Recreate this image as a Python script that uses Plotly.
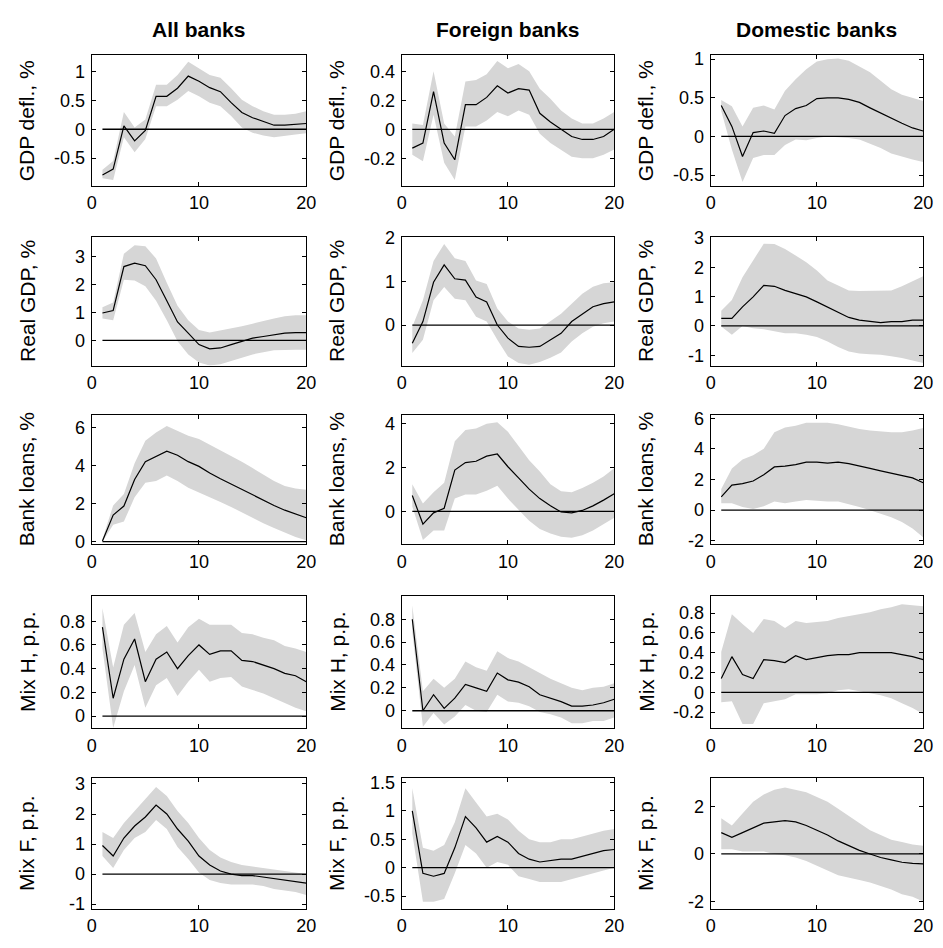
import plotly.graph_objects as go

horizon = list(range(1, 21))
col_titles = ["All banks", "Foreign banks", "Domestic banks"]
row_labels = ["GDP defl., %", "Real GDP, %", "Bank loans, %", "Mix H, p.p.", "Mix F, p.p."]

# ---- GDP deflator ----
gdp_all_mid = [-0.79, -0.69, 0.06, -0.20, -0.02, 0.57, 0.57, 0.71, 0.92, 0.83, 0.72, 0.65, 0.46, 0.29, 0.20, 0.13, 0.07, 0.07, 0.08, 0.10]
gdp_all_up = [-0.70, -0.55, 0.30, 0.03, 0.17, 0.77, 0.77, 0.94, 1.17, 1.06, 0.94, 0.89, 0.71, 0.51, 0.40, 0.31, 0.25, 0.25, 0.27, 0.31]
gdp_all_lo = [-0.85, -0.88, -0.14, -0.40, -0.17, 0.40, 0.40, 0.51, 0.66, 0.57, 0.46, 0.40, 0.23, 0.03, -0.06, -0.11, -0.14, -0.11, -0.09, -0.07]

gdp_for_mid = [-0.13, -0.095, 0.26, -0.095, -0.21, 0.17, 0.17, 0.22, 0.30, 0.25, 0.28, 0.27, 0.11, 0.05, 0.0, -0.05, -0.07, -0.07, -0.05, 0.0]
gdp_for_up = [0.04, 0.03, 0.40, 0.04, -0.05, 0.33, 0.34, 0.38, 0.47, 0.42, 0.45, 0.40, 0.28, 0.21, 0.13, 0.075, 0.04, 0.04, 0.075, 0.12]
gdp_for_lo = [-0.175, -0.22, 0.10, -0.23, -0.35, 0.02, 0.02, 0.06, 0.12, 0.09, 0.13, 0.10, -0.03, -0.095, -0.14, -0.19, -0.20, -0.20, -0.175, -0.14]

gdp_dom_mid = [0.40, 0.13, -0.26, 0.05, 0.07, 0.04, 0.27, 0.36, 0.40, 0.49, 0.50, 0.50, 0.48, 0.44, 0.37, 0.30, 0.23, 0.17, 0.11, 0.07]
gdp_dom_up = [0.47, 0.39, 0.13, 0.37, 0.40, 0.35, 0.59, 0.74, 0.87, 0.97, 1.00, 1.01, 0.98, 0.91, 0.83, 0.72, 0.61, 0.54, 0.50, 0.46]
gdp_dom_lo = [0.33, -0.17, -0.59, -0.28, -0.24, -0.24, -0.11, -0.04, -0.05, -0.02, 0.0, -0.01, -0.02, -0.04, -0.09, -0.15, -0.22, -0.26, -0.30, -0.33]

# ---- Real GDP ----
rgdp_all_mid = [0.98, 1.07, 2.64, 2.76, 2.67, 2.17, 1.42, 0.66, 0.26, -0.15, -0.30, -0.27, -0.15, -0.03, 0.08, 0.14, 0.20, 0.26, 0.28, 0.28]
rgdp_all_up = [1.19, 1.36, 3.10, 3.40, 3.37, 2.93, 2.06, 1.24, 0.72, 0.37, 0.28, 0.35, 0.43, 0.51, 0.60, 0.70, 0.78, 0.86, 0.90, 0.90]
rgdp_all_lo = [0.78, 0.72, 2.17, 2.14, 1.94, 1.42, 0.72, -0.03, -0.50, -0.79, -0.90, -0.85, -0.73, -0.62, -0.50, -0.42, -0.35, -0.33, -0.33, -0.33]

rgdp_for_mid = [-0.42, 0.08, 0.98, 1.38, 1.06, 1.03, 0.64, 0.53, 0.0, -0.30, -0.49, -0.51, -0.49, -0.34, -0.19, 0.08, 0.26, 0.42, 0.49, 0.53]
rgdp_for_up = [-0.04, 0.57, 1.47, 1.86, 1.53, 1.47, 1.02, 0.94, 0.38, 0.08, -0.08, -0.11, -0.08, 0.08, 0.26, 0.49, 0.72, 0.88, 0.96, 0.98]
rgdp_for_lo = [-0.64, -0.34, 0.57, 0.87, 0.60, 0.57, 0.19, 0.08, -0.34, -0.72, -0.87, -0.91, -0.85, -0.75, -0.63, -0.38, -0.19, -0.04, 0.04, 0.08]

rgdp_dom_mid = [0.26, 0.26, 0.65, 0.99, 1.38, 1.35, 1.21, 1.10, 0.99, 0.82, 0.65, 0.48, 0.29, 0.20, 0.15, 0.11, 0.15, 0.15, 0.20, 0.20]
rgdp_dom_up = [0.52, 0.88, 1.66, 2.22, 2.80, 2.79, 2.62, 2.40, 2.17, 1.89, 1.55, 1.38, 1.21, 1.19, 1.19, 1.19, 1.21, 1.35, 1.53, 1.69]
rgdp_dom_lo = [-0.02, -0.30, 0.0, -0.08, -0.11, -0.19, -0.25, -0.25, -0.30, -0.38, -0.53, -0.72, -0.87, -0.94, -0.96, -0.98, -1.03, -1.09, -1.17, -1.26]

# ---- Bank loans ----
loans_all_mid = [0.03, 1.40, 1.88, 3.28, 4.22, 4.51, 4.77, 4.56, 4.22, 3.97, 3.62, 3.32, 3.03, 2.77, 2.46, 2.17, 1.91, 1.66, 1.44, 1.26]
loans_all_up = [0.12, 1.91, 2.51, 4.14, 5.33, 5.76, 6.10, 5.85, 5.59, 5.42, 5.13, 4.82, 4.51, 4.22, 3.88, 3.54, 3.20, 2.94, 2.80, 2.74]
loans_all_lo = [0.0, 0.89, 1.06, 2.34, 3.11, 3.20, 3.49, 3.20, 2.85, 2.63, 2.34, 2.09, 1.83, 1.57, 1.26, 0.97, 0.72, 0.46, 0.24, 0.07]

loans_for_mid = [0.72, -0.58, -0.07, 0.14, 1.88, 2.22, 2.28, 2.51, 2.61, 2.03, 1.52, 1.01, 0.58, 0.25, -0.03, -0.07, 0.04, 0.25, 0.51, 0.80]
loans_for_up = [1.23, 0.36, 0.87, 1.30, 3.19, 3.70, 3.77, 3.99, 4.06, 3.62, 2.97, 2.32, 1.81, 1.23, 0.91, 0.87, 1.06, 1.30, 1.59, 1.96]
loans_for_lo = [0.22, -1.30, -0.87, -0.87, 0.58, 0.77, 0.77, 0.94, 1.16, 0.58, 0.07, -0.43, -0.80, -1.01, -1.16, -1.20, -1.09, -0.87, -0.58, -0.29]

loans_dom_mid = [0.87, 1.63, 1.73, 1.90, 2.31, 2.82, 2.87, 2.97, 3.13, 3.13, 3.07, 3.13, 3.03, 2.89, 2.72, 2.56, 2.41, 2.27, 2.10, 1.79]
loans_dom_up = [1.38, 2.72, 3.30, 3.59, 4.00, 5.09, 5.40, 5.50, 5.71, 5.71, 5.71, 5.61, 5.44, 5.30, 5.20, 5.15, 5.09, 5.09, 5.20, 5.36]
loans_dom_lo = [0.45, 0.45, 0.21, 0.08, 0.25, 0.56, 0.45, 0.56, 0.66, 0.62, 0.56, 0.56, 0.41, 0.21, 0.0, -0.21, -0.47, -0.78, -1.20, -1.77]

# ---- Mix H ----
mixh_all_mid = [0.75, 0.15, 0.48, 0.65, 0.29, 0.48, 0.54, 0.40, 0.51, 0.60, 0.52, 0.55, 0.55, 0.47, 0.46, 0.43, 0.40, 0.36, 0.34, 0.29]
mixh_all_up = [0.91, 0.41, 0.77, 0.87, 0.54, 0.69, 0.76, 0.62, 0.75, 0.82, 0.77, 0.77, 0.77, 0.70, 0.69, 0.66, 0.64, 0.59, 0.57, 0.54]
mixh_all_lo = [0.57, -0.10, 0.21, 0.43, 0.07, 0.26, 0.32, 0.17, 0.29, 0.39, 0.29, 0.32, 0.33, 0.25, 0.22, 0.19, 0.15, 0.11, 0.07, 0.04]

mixh_for_mid = [0.80, 0.0, 0.14, 0.02, 0.11, 0.23, 0.20, 0.17, 0.33, 0.27, 0.25, 0.21, 0.14, 0.11, 0.08, 0.04, 0.04, 0.05, 0.07, 0.10]
mixh_for_up = [0.92, 0.17, 0.28, 0.20, 0.28, 0.43, 0.38, 0.35, 0.52, 0.46, 0.43, 0.38, 0.33, 0.28, 0.24, 0.20, 0.18, 0.20, 0.21, 0.24]
mixh_for_lo = [0.69, -0.14, -0.02, -0.12, -0.05, 0.05, 0.0, -0.01, 0.14, 0.08, 0.07, 0.04, -0.01, -0.03, -0.06, -0.11, -0.11, -0.09, -0.09, -0.06]

mixh_dom_mid = [0.14, 0.36, 0.18, 0.14, 0.33, 0.32, 0.30, 0.37, 0.33, 0.35, 0.37, 0.38, 0.38, 0.40, 0.40, 0.40, 0.40, 0.38, 0.36, 0.33]
mixh_dom_up = [0.41, 0.79, 0.69, 0.60, 0.74, 0.72, 0.65, 0.72, 0.70, 0.71, 0.72, 0.75, 0.77, 0.79, 0.81, 0.84, 0.86, 0.89, 0.88, 0.87]
mixh_dom_lo = [-0.10, -0.09, -0.32, -0.32, -0.11, -0.09, -0.07, -0.02, -0.02, -0.02, -0.01, 0.02, 0.03, 0.01, -0.01, -0.03, -0.06, -0.11, -0.16, -0.22]

# ---- Mix F ----
mixf_all_mid = [0.95, 0.60, 1.20, 1.60, 1.90, 2.30, 2.00, 1.50, 1.10, 0.60, 0.30, 0.10, 0.0, -0.05, -0.05, -0.10, -0.15, -0.20, -0.25, -0.30]
mixf_all_up = [1.40, 1.20, 1.70, 2.10, 2.50, 2.90, 2.60, 2.10, 1.70, 1.20, 0.80, 0.55, 0.40, 0.30, 0.25, 0.20, 0.15, 0.10, 0.05, 0.0]
mixf_all_lo = [0.60, 0.20, 0.80, 1.20, 1.40, 1.80, 1.50, 0.90, 0.50, 0.05, -0.20, -0.30, -0.35, -0.35, -0.35, -0.40, -0.50, -0.55, -0.60, -0.70]

mixf_for_mid = [1.00, -0.10, -0.15, -0.10, 0.35, 0.90, 0.70, 0.45, 0.55, 0.45, 0.25, 0.15, 0.10, 0.12, 0.15, 0.15, 0.20, 0.25, 0.30, 0.32]
mixf_for_up = [1.40, 0.35, 0.30, 0.40, 0.80, 1.40, 1.15, 0.90, 0.95, 0.85, 0.65, 0.50, 0.45, 0.45, 0.50, 0.50, 0.55, 0.60, 0.65, 0.68]
mixf_for_lo = [0.60, -0.60, -0.60, -0.55, -0.10, 0.40, 0.25, 0.0, 0.10, 0.05, -0.15, -0.20, -0.25, -0.25, -0.25, -0.20, -0.15, -0.10, -0.05, 0.0]

mixf_dom_mid = [0.90, 0.70, 0.90, 1.10, 1.30, 1.35, 1.40, 1.35, 1.20, 1.00, 0.80, 0.55, 0.35, 0.15, 0.0, -0.15, -0.25, -0.35, -0.40, -0.42]
mixf_dom_up = [1.50, 1.20, 1.70, 2.20, 2.50, 2.70, 2.80, 2.70, 2.60, 2.40, 2.20, 1.90, 1.60, 1.30, 1.00, 0.80, 0.60, 0.50, 0.40, 0.35]
mixf_dom_lo = [0.20, 0.20, 0.10, 0.10, 0.10, 0.0, -0.05, -0.15, -0.30, -0.50, -0.70, -0.90, -1.00, -1.10, -1.20, -1.35, -1.50, -1.70, -1.80, -2.00]

# y-axis limits and ticks per panel (row-major)
y_ranges = [
    [-0.98, 1.28], [-0.39, 0.51], [-0.64, 1.05],
    [-0.90, 3.70], [-0.93, 2.02], [-1.35, 3.03],
    [-0.14, 6.70], [-1.50, 4.40], [-2.23, 6.23],
    [-0.10, 1.01], [-0.15, 1.00], [-0.36, 0.97],
    [-1.15, 3.20], [-0.72, 1.58], [-2.30, 3.20],
]
y_ticks = [
    [-0.5, 0, 0.5, 1], [-0.2, 0, 0.2, 0.4], [-0.5, 0, 0.5, 1],
    [0, 1, 2, 3], [0, 1, 2], [-1, 0, 1, 2, 3],
    [0, 2, 4, 6], [0, 2, 4], [-2, 0, 2, 4, 6],
    [0, 0.2, 0.4, 0.6, 0.8], [0, 0.2, 0.4, 0.6, 0.8], [-0.2, 0, 0.2, 0.4, 0.6, 0.8],
    [-1, 0, 1, 2, 3], [-0.5, 0, 0.5, 1, 1.5], [-2, 0, 2],
]
x_ticks = [0, 10, 20]

panels = [
    (gdp_all_mid, gdp_all_up, gdp_all_lo), (gdp_for_mid, gdp_for_up, gdp_for_lo), (gdp_dom_mid, gdp_dom_up, gdp_dom_lo),
    (rgdp_all_mid, rgdp_all_up, rgdp_all_lo), (rgdp_for_mid, rgdp_for_up, rgdp_for_lo), (rgdp_dom_mid, rgdp_dom_up, rgdp_dom_lo),
    (loans_all_mid, loans_all_up, loans_all_lo), (loans_for_mid, loans_for_up, loans_for_lo), (loans_dom_mid, loans_dom_up, loans_dom_lo),
    (mixh_all_mid, mixh_all_up, mixh_all_lo), (mixh_for_mid, mixh_for_up, mixh_for_lo), (mixh_dom_mid, mixh_dom_up, mixh_dom_lo),
    (mixf_all_mid, mixf_all_up, mixf_all_lo), (mixf_for_mid, mixf_for_up, mixf_for_lo), (mixf_dom_mid, mixf_dom_up, mixf_dom_lo),
]

# The page body has an 8px margin: figure is shifted by OFF on screen.
OFF = 8
W, H = 943 - OFF, 948 - OFF
# screen-pixel boxes of the axes
col_px = [(88, 306), (403, 619), (717, 933)]
row_px = [(47, 180), (232, 363), (413, 545), (598, 732), (783, 916)]
FONT = "Liberation Sans, Arial, sans-serif"
BAND = "rgb(214,214,214)"


def px_x(sx):
    return (sx - OFF) / W


def px_y(sy):
    return 1 - (sy - OFF) / H


def fmt(v):
    return "%g" % v


fig = go.Figure()
annotations = []
for k, (mid, up, lo) in enumerate(panels):
    r, c = divmod(k, 3)
    n = k + 1
    xa = "x" if n == 1 else "x%d" % n
    ya = "y" if n == 1 else "y%d" % n
    fig.add_trace(go.Scatter(
        x=horizon + horizon[::-1], y=up + lo[::-1],
        fill="toself", fillcolor=BAND, line=dict(width=0, color=BAND),
        mode="lines", hoverinfo="skip", showlegend=False, xaxis=xa, yaxis=ya))
    fig.add_trace(go.Scatter(
        x=horizon, y=[0] * len(horizon), mode="lines",
        line=dict(color="black", width=1.3), showlegend=False, xaxis=xa, yaxis=ya))
    fig.add_trace(go.Scatter(
        x=horizon, y=mid, mode="lines",
        line=dict(color="black", width=1.2), showlegend=False, xaxis=xa, yaxis=ya))

    x0, x1 = col_px[c]
    y0, y1 = row_px[r]
    axis_common = dict(
        showline=True, linecolor="black", linewidth=1, mirror="ticks",
        ticks="inside", ticklen=4, tickcolor="black", tickwidth=1,
        showgrid=False, zeroline=False,
        tickfont=dict(family=FONT, size=18, color="black"),
    )
    xkey = "xaxis" if n == 1 else "xaxis%d" % n
    ykey = "yaxis" if n == 1 else "yaxis%d" % n
    fig.layout[xkey] = dict(
        axis_common, domain=[px_x(x0), px_x(x1)], range=[0, 20],
        tickvals=x_ticks, ticktext=[fmt(v) for v in x_ticks],
        anchor=ya, ticklabelstandoff=1)
    fig.layout[ykey] = dict(
        axis_common, domain=[px_y(y1), px_y(y0)], range=y_ranges[k],
        tickvals=y_ticks[k], ticktext=[fmt(v) for v in y_ticks[k]],
        anchor=xa, ticklabelstandoff=2)

    annotations.append(dict(
        text=row_labels[r], textangle=-90, xref="paper", yref="paper",
        x=px_x(x0 - 66), y=px_y((y0 + y1) / 2), xanchor="center", yanchor="middle",
        showarrow=False, font=dict(family=FONT, size=21, color="black")))
    if r == 0:
        annotations.append(dict(
            text="<b>%s</b>" % col_titles[c], xref="paper", yref="paper",
            x=px_x((x0 + x1) / 2), y=px_y(21), xanchor="center", yanchor="middle",
            showarrow=False, font=dict(family=FONT, size=21, color="black")))

fig.update_layout(
    width=W, height=H, autosize=False,
    margin=dict(l=0, r=0, t=0, b=0),
    paper_bgcolor="white", plot_bgcolor="white",
    annotations=annotations, showlegend=False,
)

fig.write_html("out.html")
